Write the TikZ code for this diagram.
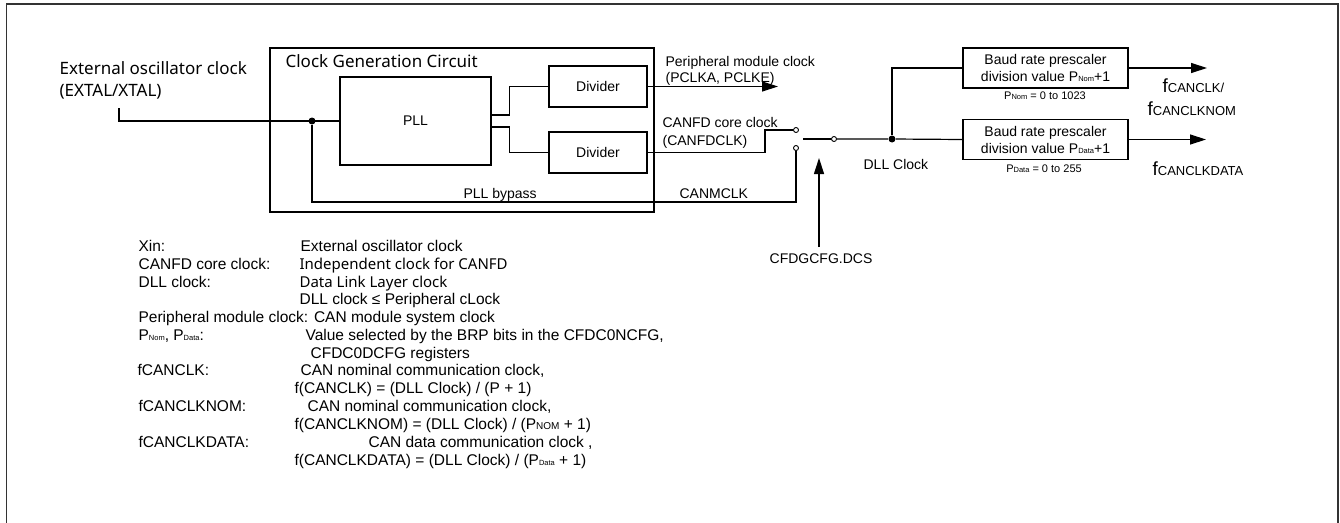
\documentclass[tikz,border=0pt]{standalone}
\usepackage{fontspec}
\setmainfont{Liberation Sans}
\newfontfamily\segf{Noto Sans}
\usetikzlibrary{arrows.meta,calc}
\newcommand\smsub[1]{{\fontsize{7.5}{7.5}\selectfont #1}}
\newcommand\legf{\fontsize{15.5}{18}\selectfont}
\begin{document}
\begin{tikzpicture}[x=1pt,y=-1pt,line width=1.2pt,
  box/.style={draw,rectangle,inner sep=0,font=\fontsize{14}{17}\selectfont,align=center},
  lbl/.style={anchor=base west,inner sep=0,font=\fontsize{14}{17}\selectfont},
  seg/.style={anchor=base west,inner sep=0,font=\segf\fontsize{17}{20}\selectfont},
  leg/.style={anchor=base west,inner sep=0,font=\legf},
  legs/.style={anchor=base west,inner sep=0,font=\segf\fontsize{15}{18}\selectfont},
  arr/.style={-{Triangle[length=16pt,width=10pt]}},
  ct/.style={circle,draw,fill=white,inner sep=0,minimum size=5pt,line width=0.9pt},
  dot/.style={circle,fill,inner sep=0,minimum size=7pt}]
\useasboundingbox (0,0) rectangle (1340,522);
% outer frame
\draw[line width=1.8pt,black!80] (6.5,524) -- (6.5,4) -- (1338,4) -- (1338,524);
% boxes
\node[box,minimum width=384pt,minimum height=164pt] (cgc) at (462,130) {};
\node[seg] (cgct) at (285,67) {Clock Generation Circuit};
\node[box,minimum width=151pt,minimum height=88pt] (pll) at (415.5,121) {PLL};
\node[box,minimum width=98pt,minimum height=41pt] (div1) at (598,86.5) {Divider};
\node[box,minimum width=98pt,minimum height=41pt] (div2) at (598,152.5) {Divider};
\node[box,minimum width=165pt,minimum height=40pt] (baud1) at (1045.5,68) {Baud rate prescaler\\division value P\smsub{Nom}+1};
\node[box,minimum width=165pt,minimum height=40pt] (baud2) at (1045.5,139.5) {Baud rate prescaler\\division value P\smsub{Data}+1};
\node[anchor=base,inner sep=0,font=\fontsize{11}{11}\selectfont] (pnom) at (1045,99) {P\smsub{Nom} = 0 to 1023};
\node[anchor=base,inner sep=0,font=\fontsize{11}{11}\selectfont] (pdata) at (1044,172) {P\smsub{Data} = 0 to 255};
% contacts and dots
\node[ct] (c1) at (796,130) {};
\node[ct] (c2) at (796,148) {};
\node[ct] (c0) at (834,139) {};
\node[dot] (dot1) at (312,121) {};
\node[dot] (dll) at (892,139) {};
\coordinate (in) at (119,108);
\coordinate (byp) at (796,202);
\coordinate (blade) at (803,139);
\coordinate (k2) at (765,152.5);
\coordinate (pclk) at (778,86.5);
\coordinate (o1) at (1207,68);
\coordinate (o2) at (1206,139.5);
\coordinate (dcsTail) at (819,247);
\coordinate (dcsTip) at (819,158);
% connectors
\draw (in) |- (pll.west);
\draw (dot1) |- (byp) -- (c2);
\draw ($(pll.east)+(0,-6)$) -- ++(18,0) |- (div1.west);
\draw ($(pll.east)+(0,6)$) -- ++(18,0) |- (div2.west);
\draw[arr] (div1.east) -- (pclk);
\draw (div2.east) -- (k2) |- (c1);
\draw (blade) -- (c0);
\draw (c0) -- (dll) -- (baud2.west);
\draw (dll) |- (baud1.west);
\draw[arr] (baud1.east) -- (o1);
\draw[arr] (baud2.east) -- (o2);
\draw[arr] (dcsTail) -- (dcsTip);
% labels
\node[seg] (ext1) at (59,74) {External oscillator clock};
\node[seg] (ext2) at (59,96) {(EXTAL/XTAL)};
\node[lbl] (pm1) at (665,66) {Peripheral module clock};
\node[lbl] (pm2) at (665,82) {(PCLKA, PCLKE)};
\node[lbl] (cf1) at (662,127) {CANFD core clock};
\node[lbl] (cf2) at (662,145) {(CANFDCLK)};
\node[lbl] (bypt) at (463,198) {PLL bypass};
\node[lbl] (canm) at (679,198) {CANMCLK};
\node[lbl] (dllt) at (863,169) {DLL Clock};
\node[anchor=base,inner sep=0,font=\fontsize{14}{17}\selectfont] (dcs) at (821,263) {CFDGCFG.DCS};
\node[anchor=base west,inner sep=0] (f1) at (1162,92) {\fontsize{19}{19}\selectfont f\fontsize{13}{13}\selectfont CANCLK/};
\node[anchor=base west,inner sep=0] (f2) at (1147,115) {\fontsize{19}{19}\selectfont f\fontsize{13}{13}\selectfont CANCLKNOM};
\node[anchor=base west,inner sep=0] (f3) at (1152,175) {\fontsize{19}{19}\selectfont f\fontsize{13}{13}\selectfont CANCLKDATA};
% legend
\node[leg] (l0a) at (138,251.5) {Xin:};
\node[leg] (l0b) at (300,251.5) {External oscillator clock};
\node[leg] (l1a) at (138,269.5) {CANFD core clock:};
\node[legs] (l1b) at (299,269.5) {Independent clock for CANFD};
\node[leg] (l2a) at (138,287.5) {DLL clock:};
\node[legs] (l2b) at (299,287.5) {Data Link Layer clock};
\node[leg] (l3b) at (299,304.5) {DLL clock ≤ Peripheral cLock};
\node[leg] (l4a) at (138,322.5) {Peripheral module clock: CAN module system clock};
\node[leg] (l5a) at (138,340.5) {P\smsub{Nom}, P\smsub{Data}:};
\node[leg] (l5b) at (305,340.5) {Value selected by the BRP bits in the CFDC0NCFG,};
\node[leg] (l6b) at (310,358.5) {CFDC0DCFG registers};
\node[leg] (l7a) at (137,375.5) {fCANCLK:};
\node[leg] (l7b) at (300,375.5) {CAN nominal communication clock,};
\node[leg] (l8b) at (294,393.5) {f(CANCLK) = (DLL Clock) / (P + 1)};
\node[leg] (l9a) at (138,411.5) {fCANCLKNOM:};
\node[leg] (l9b) at (307,411.5) {CAN nominal communication clock,};
\node[leg] (l10b) at (294,429.5) {f(CANCLKNOM) = (DLL Clock) / (P{\fontsize{10}{10}\selectfont NOM} + 1)};
\node[leg] (l11a) at (138,447.5) {fCANCLKDATA:};
\node[leg] (l11b) at (368,447.5) {CAN data communication clock ,};
\node[leg] (l12b) at (294,465.5) {f(CANCLKDATA) = (DLL Clock) / (P\smsub{Data} + 1)};
\end{tikzpicture}
\end{document}
